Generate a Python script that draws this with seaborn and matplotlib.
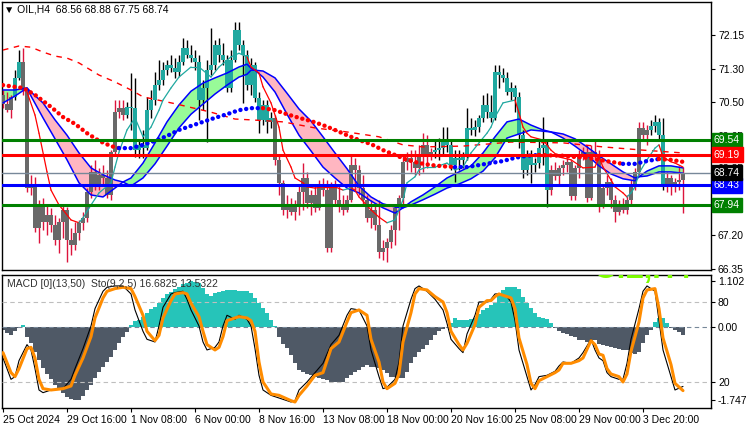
import numpy as np
import pandas as pd
import matplotlib
matplotlib.use("Agg")
import matplotlib.pyplot as plt
import seaborn as sns

# OIL H4 bars (one entry per 4h bar)
opens = [70.67, 70.44, 70.29, 70.62, 71.09, 71.48, 70.79, 68.36, 68.44, 67.37,
         67.94, 67.52, 67.70, 67.45, 67.08, 67.52, 67.82, 67.08, 66.95, 67.25,
         67.50, 67.62, 68.26, 68.76, 68.44, 68.69, 68.61, 68.19, 69.25, 70.24,
         70.34, 70.17, 70.37, 70.34, 69.30, 69.43, 69.35, 70.29, 70.54, 70.91,
         71.04, 71.28, 71.41, 71.33, 71.23, 71.48, 71.83, 71.66, 71.58, 71.48,
         70.54, 70.84, 71.28, 71.41, 71.90, 71.66, 71.53, 70.84, 71.53, 72.27,
         71.90, 71.66, 70.91, 71.41, 70.59, 70.05, 70.42, 70.00, 70.10, 69.06,
         68.49, 67.82, 67.97, 67.77, 67.89, 68.26, 68.61, 67.99, 68.19, 67.87,
         68.44, 68.31, 66.88, 68.44, 68.07, 67.94, 67.82, 68.07, 68.93, 68.81,
         68.36, 68.07, 67.62, 67.82, 67.45, 66.78, 66.88, 67.03, 67.32, 67.87,
         68.12, 69.01, 69.11, 69.01, 68.86, 69.18, 69.43, 69.18, 69.25, 69.30,
         69.35, 69.50, 69.43, 68.93, 69.11, 69.06, 69.13, 69.85, 69.80, 69.87,
         70.10, 70.42, 70.24, 70.10, 71.23, 71.16, 71.09, 70.74, 70.84, 70.62,
         69.67, 68.81, 69.18, 68.93, 68.98, 69.35, 69.43, 68.31, 68.81, 68.66,
         68.86, 68.93, 69.01, 68.17, 68.86, 69.18, 69.25, 68.12, 69.25, 69.18,
         67.94, 68.36, 68.51, 68.07, 67.77, 67.94, 67.82, 68.07, 68.44, 68.76,
         69.85, 69.67, 69.80, 69.90, 70.00, 69.67, 68.44, 68.61, 68.39, 68.51,
         68.56]
highs = [70.79, 70.74, 70.67, 71.28, 71.78, 71.83, 70.84, 68.69, 68.64, 68.07,
         68.12, 67.94, 67.87, 67.70, 67.62, 67.94, 67.89, 67.37, 67.52, 67.57,
         67.77, 68.36, 68.93, 69.06, 68.86, 68.93, 68.81, 69.30, 70.54, 70.54,
         70.54, 70.49, 71.21, 71.09, 69.55, 69.80, 70.62, 70.79, 71.23, 71.53,
         71.48, 71.53, 71.66, 71.58, 71.66, 72.08, 72.03, 71.90, 71.78, 71.66,
         71.04, 71.53, 72.32, 72.03, 72.08, 71.95, 71.66, 71.78, 72.47, 72.47,
         72.03, 71.78, 71.58, 71.48, 70.74, 70.54, 70.54, 70.24, 70.17, 69.18,
         68.56, 68.19, 68.12, 68.07, 68.44, 68.98, 68.76, 68.31, 68.44, 68.56,
         68.61, 68.56, 68.51, 68.56, 68.44, 68.19, 68.19, 69.18, 69.11, 68.93,
         68.69, 68.19, 68.07, 67.99, 68.07, 67.08, 67.13, 67.45, 67.94, 68.19,
         69.18, 69.25, 69.30, 69.30, 69.43, 69.72, 69.67, 69.35, 69.55, 69.60,
         69.87, 69.87, 69.55, 69.30, 69.30, 69.25, 70.34, 70.10, 70.05, 70.17,
         70.67, 70.71, 70.67, 71.41, 71.41, 71.33, 71.23, 70.99, 70.91, 70.74,
         69.80, 69.30, 69.30, 69.11, 69.55, 70.12, 69.55, 68.93, 69.01, 68.93,
         69.06, 69.11, 69.06, 68.93, 69.30, 69.38, 69.43, 69.43, 69.55, 69.30,
         68.44, 68.69, 68.61, 68.19, 68.07, 68.12, 68.19, 68.56, 68.86, 70.00,
         70.00, 69.92, 70.05, 70.17, 70.10, 70.10, 68.76, 68.69, 68.61, 68.91,
         68.88]
lows = [70.34, 70.24, 70.10, 70.54, 71.04, 70.67, 68.26, 68.19, 67.27, 67.00,
        67.32, 67.20, 67.27, 66.95, 66.75, 67.13, 66.53, 66.71, 66.83, 67.08,
        67.32, 67.52, 68.12, 68.31, 68.31, 68.44, 68.12, 68.07, 69.18, 70.10,
        70.05, 70.10, 69.80, 69.13, 69.11, 69.11, 69.30, 70.10, 70.42, 70.79,
        70.91, 71.16, 71.23, 71.09, 71.14, 71.41, 71.58, 71.48, 71.28, 70.05,
        70.29, 69.50, 71.16, 71.28, 71.48, 71.41, 70.74, 70.74, 71.48, 71.78,
        70.47, 70.79, 70.67, 70.49, 69.72, 69.92, 69.72, 69.85, 68.93, 68.19,
        67.70, 67.62, 67.70, 67.57, 67.70, 67.82, 67.87, 67.70, 67.77, 67.82,
        68.17, 66.78, 66.78, 67.94, 67.77, 67.70, 67.77, 68.02, 68.31, 68.19,
        67.94, 67.52, 67.37, 67.32, 66.63, 66.58, 66.53, 66.88, 66.95, 67.32,
        67.94, 68.81, 68.76, 68.69, 68.69, 68.76, 68.86, 69.06, 69.11, 69.06,
        69.18, 69.25, 68.81, 68.51, 68.81, 68.86, 69.06, 69.67, 69.65, 69.75,
        70.00, 70.10, 70.00, 70.05, 70.84, 70.99, 70.67, 70.54, 70.24, 69.35,
        68.61, 68.69, 68.49, 68.76, 68.86, 68.93, 67.89, 68.19, 68.56, 68.44,
        68.69, 68.76, 68.07, 68.07, 68.61, 69.06, 68.02, 68.07, 69.11, 67.77,
        67.87, 68.19, 67.87, 67.52, 67.70, 67.74, 67.72, 67.94, 68.31, 68.69,
        69.55, 69.43, 69.67, 69.75, 69.55, 68.31, 68.26, 68.19, 68.26, 68.31,
        67.75]
closes = [70.44, 70.29, 70.62, 71.09, 71.48, 70.79, 68.36, 68.44, 67.37, 67.94,
          67.52, 67.70, 67.45, 67.08, 67.52, 67.82, 67.08, 66.95, 67.25, 67.50,
          67.62, 68.26, 68.76, 68.44, 68.69, 68.61, 68.19, 69.25, 70.24, 70.34,
          70.17, 70.37, 70.34, 69.30, 69.43, 69.35, 70.29, 70.54, 70.91, 71.04,
          71.28, 71.41, 71.33, 71.23, 71.48, 71.83, 71.66, 71.58, 71.48, 70.54,
          70.84, 71.28, 71.41, 71.90, 71.66, 71.53, 70.84, 71.53, 72.27, 71.90,
          71.66, 70.91, 71.41, 70.59, 70.05, 70.42, 70.00, 70.10, 69.06, 68.49,
          67.82, 67.97, 67.77, 67.89, 68.26, 68.61, 67.99, 68.19, 67.87, 68.44,
          68.31, 66.88, 68.44, 68.07, 67.94, 67.82, 68.07, 68.93, 68.81, 68.36,
          68.07, 67.62, 67.82, 67.45, 66.78, 66.88, 67.03, 67.32, 67.87, 68.12,
          69.01, 69.11, 69.01, 68.86, 69.18, 69.43, 69.18, 69.25, 69.30, 69.35,
          69.50, 69.43, 68.93, 69.11, 69.06, 69.13, 69.85, 69.80, 69.87, 70.10,
          70.42, 70.24, 70.10, 71.23, 71.16, 71.09, 70.74, 70.84, 70.62, 69.67,
          68.81, 69.18, 68.93, 68.98, 69.35, 69.43, 68.31, 68.81, 68.66, 68.86,
          68.93, 69.01, 68.17, 68.86, 69.18, 69.25, 68.12, 69.25, 69.18, 67.94,
          68.36, 68.51, 68.07, 67.77, 67.94, 67.82, 68.07, 68.44, 68.76, 69.85,
          69.67, 69.80, 69.90, 70.00, 69.67, 68.44, 68.61, 68.39, 68.51, 68.56,
          68.74]

# candle colouring by trend: (first bar, last bar, up?)
candle_trend = [(0, 2, 0), (3, 4, 1), (5, 30, 0), (31, 67, 1), (68, 107, 0),
                (108, 136, 1), (137, 161, 0), (162, 165, 1), (166, 170, 0)]

# two-line ribbon (fast / slow)
rib_bars = [0, 3, 6, 7, 10, 13, 16, 19, 22, 25, 28, 30, 32, 35, 38, 41, 44, 47, 50, 53,
            56, 59, 61, 62, 63, 65, 68, 71, 74, 77, 80, 83, 86, 89, 92, 95, 98, 100, 102, 105,
            108, 111, 114, 117, 120, 123, 126, 129, 132, 135, 137, 140, 143, 146, 149, 152,
            155, 158, 159, 161, 164, 167, 170]
rib_fast = [70.79, 70.79, 70.84, 70.64, 70.10, 69.58, 69.06, 68.49, 68.19, 68.14,
            68.36, 68.51, 68.61, 68.98, 69.48, 70.00, 70.42, 70.76, 70.96, 71.09,
            71.21, 71.36, 71.43, 71.33, 71.28, 71.11, 70.74, 70.19, 69.67, 69.28,
            68.88, 68.61, 68.36, 68.24, 68.04, 67.87, 67.74, 67.87, 68.02, 68.19,
            68.39, 68.61, 68.76, 68.91, 69.23, 69.63, 70.00, 70.07, 69.92, 69.80,
            69.75, 69.60, 69.40, 69.18, 68.91, 68.71, 68.59, 68.54, 68.64, 68.78,
            68.91, 68.91, 68.86]
rib_slow = [70.47, 70.64, 70.84, 70.74, 70.47, 70.05, 69.67, 69.23, 68.86, 68.69,
            68.56, 68.51, 68.41, 68.61, 68.96, 69.40, 69.85, 70.19, 70.44, 70.69,
            70.91, 71.11, 71.18, 71.28, 71.28, 71.26, 71.09, 70.71, 70.32, 70.02,
            69.63, 69.23, 68.84, 68.41, 68.14, 67.97, 67.89, 67.87, 67.94, 68.07,
            68.21, 68.36, 68.46, 68.59, 68.78, 69.11, 69.60, 69.70, 69.80, 69.77,
            69.75, 69.70, 69.58, 69.38, 69.16, 68.96, 68.76, 68.61, 68.64, 68.66,
            68.76, 68.76, 68.73]

# slow dashed average
long_bars = [0, 4, 7, 10, 13, 16, 19, 24, 28, 32, 35, 43, 52, 58, 62, 70, 78, 86, 94,
             100, 105, 115, 127, 140, 150, 160, 170]
long_vals = [71.78, 71.88, 71.85, 71.73, 71.63, 71.58, 71.46, 71.16, 70.99, 70.79,
             70.62, 70.45, 70.24, 70.07, 70.05, 70.00, 69.85, 69.75, 69.63, 69.43,
             69.38, 69.40, 69.50, 69.48, 69.38, 69.30, 69.23]

# dotted average (blue rising / red falling)
dot_bars = [0, 5, 8, 12, 15, 18, 21, 24, 27, 29, 32, 35, 38, 41, 44, 47, 50, 53, 56, 59,
            62, 65, 68, 71, 74, 77, 80, 83, 86, 89, 92, 95, 98, 101, 104, 107, 110, 113,
            116, 119, 122, 125, 128, 131, 134, 137, 140, 143, 146, 149, 152, 155, 158,
            161, 164, 167, 170]
dot_vals = [70.91, 70.84, 70.67, 70.37, 70.12, 69.95, 69.72, 69.53, 69.40, 69.35,
            69.35, 69.43, 69.53, 69.65, 69.80, 69.90, 70.00, 70.10, 70.19, 70.29,
            70.34, 70.34, 70.29, 70.19, 70.10, 70.02, 69.92, 69.80, 69.67, 69.55,
            69.45, 69.30, 69.18, 69.06, 68.98, 68.93, 68.90, 68.88, 68.88, 68.93,
            68.98, 69.03, 69.11, 69.16, 69.18, 69.17, 69.16, 69.13, 69.11, 69.06,
            69.01, 68.96, 68.96, 69.03, 69.08, 69.06, 69.01]

# thin trailing line, teal while in these bar ranges, red otherwise
trail_bars = [6, 8, 9, 11, 12, 14, 15, 17, 19, 20, 22, 24, 27, 28, 29, 31, 33, 35, 37, 39,
              40, 42, 44, 47, 49, 52, 54, 57, 59, 61, 62, 64, 65, 67, 69, 70, 72, 73, 75, 76,
              78, 80, 83, 85, 87, 88, 89, 92, 94, 96, 98, 100, 101, 103, 104, 106, 108, 111,
              113, 115, 117, 119, 121, 122, 123, 125, 128, 129, 130, 131, 132, 135, 137, 139,
              142, 145, 148, 149, 150, 152, 153, 155, 156, 157, 158, 159, 161, 163, 164, 165,
              167, 168, 170]
trail_vals = [70.74, 70.17, 69.72, 68.76, 68.31, 67.94, 67.82, 67.57, 67.50, 67.62,
              67.94, 68.24, 68.49, 68.88, 69.25, 69.80, 70.10, 69.63, 69.87, 70.29,
              70.54, 70.84, 71.11, 71.36, 71.36, 71.11, 71.36, 71.61, 71.70, 71.61,
              71.36, 71.21, 70.87, 70.47, 69.87, 69.30, 68.88, 68.61, 68.49, 68.39,
              68.36, 68.39, 68.39, 68.31, 68.36, 68.31, 68.14, 67.82, 67.64, 67.50,
              67.57, 68.07, 68.49, 68.64, 68.81, 68.88, 68.88, 68.98, 68.81, 68.88,
              69.23, 69.48, 69.72, 69.87, 70.12, 70.47, 70.54, 70.22, 69.87, 69.72,
              69.63, 69.55, 69.30, 69.13, 69.06, 68.86, 68.88, 69.13, 68.88, 68.56,
              68.39, 68.24, 68.14, 68.24, 68.39, 68.73, 69.06, 69.35, 69.43, 69.13,
              69.01, 68.98, 68.88]
trail_teal = [(20, 61), (87, 87), (98, 128), (157, 164)]

# horizontal levels
level_vals = [69.54, 69.19, 68.43, 67.94]
level_cols = ["#008000", "#FF0000", "#0000FF", "#008000"]
last_price = 68.74
price_ticks = [72.15, 71.30, 70.50, 69.65, 68.85, 68.00, 67.20, 66.35]
price_tick_labels = ["72.15", "71.30", "70.50", "69.65", "68.85", "", "67.20", "66.35"]

# MACD(13,50) histogram, one value per bar
macd_hist = [-0.07, -0.15, -0.20, -0.10, -0.02, 0.05, -0.23, -0.38, -0.60, -0.79,
             -0.98, -1.12, -1.25, -1.39, -1.50, -1.58, -1.68, -1.73, -1.747, -1.74,
             -1.65, -1.52, -1.40, -1.22, -1.08, -0.95, -0.85, -0.72, -0.55, -0.38,
             -0.23, -0.11, 0.05, 0.15, 0.18, 0.25, 0.33, 0.42, 0.48, 0.57,
             0.69, 0.78, 0.83, 0.91, 0.95, 1.02, 1.05, 1.102, 1.09, 1.05,
             0.93, 0.80, 0.75, 0.82, 0.85, 0.86, 0.89, 0.89, 0.88, 0.87,
             0.87, 0.86, 0.82, 0.69, 0.57, 0.45, 0.33, 0.17, 0.03, -0.23,
             -0.40, -0.50, -0.67, -0.87, -1.03, -1.09, -1.12, -1.15, -1.19, -1.23,
             -1.25, -1.28, -1.31, -1.33, -1.33, -1.31, -1.23, -1.15, -1.08, -1.02,
             -0.95, -0.91, -0.95, -0.97, -0.99, -1.03, -1.11, -1.19, -1.21, -1.22,
             -1.23, -1.07, -0.87, -0.71, -0.60, -0.52, -0.43, -0.31, -0.19, -0.10,
             -0.05, -0.01, 0.09, 0.21, 0.17, 0.17, 0.17, 0.20, 0.21, 0.30,
             0.41, 0.45, 0.52, 0.61, 0.77, 0.89, 0.95, 0.96, 0.95, 0.91,
             0.73, 0.57, 0.45, 0.33, 0.25, 0.21, 0.20, 0.09, -0.03, -0.10,
             -0.14, -0.16, -0.22, -0.24, -0.30, -0.32, -0.35, -0.35, -0.31, -0.41,
             -0.44, -0.46, -0.48, -0.51, -0.52, -0.55, -0.56, -0.62, -0.64, -0.59,
             -0.39, -0.19, -0.07, 0.13, 0.21, 0.21, 0.09, -0.03, -0.07, -0.13,
             -0.19]

# Stochastic(9,2,5)
sto_bars = [0, 2, 3, 4, 6, 7, 8, 9, 10, 12, 15, 17, 18, 20, 22, 23, 25, 26, 28, 30,
            32, 33, 35, 36, 38, 39, 40, 42, 43, 45, 46, 47, 49, 50, 51, 53, 54, 55, 56, 58,
            59, 61, 62, 63, 64, 65, 67, 69, 72, 73, 74, 76, 78, 80, 82, 84, 86, 87, 89, 91,
            92, 94, 95, 96, 98, 99, 100, 102, 103, 104, 106, 108, 110, 111, 112, 114, 115,
            116, 118, 119, 121, 122, 123, 124, 126, 127, 128, 129, 131, 132, 133, 134, 136,
            138, 139, 140, 142, 144, 145, 147, 148, 149, 150, 151, 152, 154, 155, 156, 157,
            159, 160, 161, 163, 164, 165, 167, 168, 170]
sto_main = [38, 22, 24, 36, 48, 44, 30, 14, 12, 14, 15, 22, 30, 45, 62, 75, 88, 91, 92, 92,
            86, 74, 58, 52, 50, 62, 76, 86, 87, 88, 82, 74, 62, 50, 44, 46, 50, 62, 70, 67,
            70, 67, 62, 45, 25, 14, 10, 8, 5, 6, 14, 20, 27, 34, 48, 55, 70, 75, 74, 62,
            44, 24, 15, 16, 22, 35, 62, 82, 90, 92, 88, 82, 74, 64, 52, 45, 42, 56, 70, 80,
            80, 82, 86, 86, 84, 80, 66, 44, 24, 14, 18, 24, 25, 28, 32, 35, 34, 38, 42, 52,
            44, 38, 36, 27, 24, 22, 22, 34, 52, 75, 88, 92, 88, 66, 44, 24, 14, 16.68]
sto_signal = [42, 27, 24, 30, 45, 46, 38, 22, 15, 14, 15, 17, 25, 38, 54, 68, 83, 88, 90, 91,
              90, 84, 70, 58, 51, 55, 68, 81, 86, 87, 86, 79, 69, 58, 48, 44, 46, 54, 66, 68,
              69, 68, 66, 58, 35, 20, 11, 10, 6, 5, 10, 17, 25, 27, 45, 50, 65, 72, 74, 70,
              52, 35, 20, 15, 19, 26, 50, 72, 86, 90, 89, 84, 80, 72, 58, 48, 44, 49, 63, 76,
              81, 81, 84, 86, 84, 83, 75, 53, 33, 19, 15, 21, 24, 27, 29, 34, 34, 36, 38, 51,
              48, 41, 40, 30, 26, 24, 20, 26, 43, 65, 83, 89, 90, 75, 53, 33, 19, 13.53]

date_bars = [0, 16, 32, 48, 64, 80, 96, 112, 128, 144, 160]
date_labels = ["25 Oct 2024", "29 Oct 16:00", "1 Nov 08:00", "6 Nov 00:00", "8 Nov 16:00",
               "13 Nov 08:00", "18 Nov 00:00", "20 Nov 16:00", "25 Nov 08:00",
               "29 Nov 00:00", "3 Dec 20:00"]

sns.set_theme(style="white")
plt.rcParams["font.family"] = ["Liberation Sans", "DejaVu Sans"]
plt.rcParams["font.size"] = 7

W, H = 750, 430
fig = plt.figure(figsize=(7.5, 4.3), dpi=100)
ax = fig.add_axes([2 / W, 1 - 270 / H, 709 / W, 268 / H])
axm = fig.add_axes([2 / W, 1 - 408 / H, 709 / W, 133 / H])
axs = axm.twinx()

df = pd.DataFrame({"o": opens, "h": highs, "l": lows, "c": closes})
n = len(df)
bars = np.arange(n)
up = np.zeros(n, dtype=bool)
for a, b, u in candle_trend:
    up[a:b + 1] = bool(u)

# ribbon fill
rb, rf, rs = np.array(rib_bars), np.array(rib_fast), np.array(rib_slow)
ax.fill_between(rb, rf, rs, where=rf >= rs, interpolate=True, color="#98FB98", lw=0, zorder=1)
ax.fill_between(rb, rf, rs, where=rf <= rs, interpolate=True, color="#FFB6C1", lw=0, zorder=1)

# candles
body_lo = np.minimum(df.o, df.c)
body_hi = np.maximum(df.o, df.c)
ax.vlines(bars, df.l, df.h, colors=np.where(up, "black", "#DC143C"), lw=1, zorder=3)
ax.bar(bars, np.maximum(body_hi - body_lo, 0.02), bottom=body_lo, width=0.78,
       color=list(np.where(up, "#20A8A0", "#696969")), lw=0, zorder=4)

ax.plot(rb, rf, color="#0000FF", lw=1.1, zorder=5)
ax.plot(rb, rs, color="#0000FF", lw=1.1, zorder=5)

# slow dashed average
ax.plot(long_bars, long_vals, color="red", lw=1, ls=(0, (4, 4)), zorder=5)

# thin trailing line
teal_bar = np.zeros(n, dtype=bool)
for a, b in trail_teal:
    teal_bar[a:b + 1] = True
for i in range(len(trail_bars) - 1):
    col = "#20A8A0" if teal_bar[trail_bars[i + 1]] else "red"
    ax.plot(trail_bars[i:i + 2], trail_vals[i:i + 2], color=col, lw=0.9, zorder=5)

# dotted average, grouped into runs of one colour
seg_cols = ["#0000FF" if dot_vals[i + 1] >= dot_vals[i] else "red" for i in range(len(dot_bars) - 1)]
start = 0
for i in range(1, len(seg_cols) + 1):
    if i == len(seg_cols) or seg_cols[i] != seg_cols[start]:
        ax.plot(dot_bars[start:i + 1], dot_vals[start:i + 1], color=seg_cols[start], lw=3.2,
                ls=(0, (0.01, 1.3)), dash_capstyle="round", zorder=6)
        start = i

# levels
ax.axhline(last_price, color="#778899", lw=1, zorder=6)
for v, col in zip(level_vals, level_cols):
    ax.axhline(v, color=col, lw=2.2, zorder=7)

ytr = ax.get_yaxis_transform()
for v, col in zip(level_vals + [last_price], level_cols + ["black"]):
    ax.text(1 + 3 / 709, v, f"{v:.2f}", transform=ytr, color="white", fontsize=7.5,
            va="center", ha="left", clip_on=False, zorder=10,
            bbox=dict(boxstyle="square,pad=0.22", fc=col, ec=col))

ax.set_xlim(-0.25, 177)
ax.set_ylim(66.33, 72.97)
ax.set_xticks([])
ax.set_yticks(price_ticks)
ax.set_yticklabels(price_tick_labels)
ax.yaxis.tick_right()
ax.tick_params(axis="y", right=True, left=False, length=3, width=0.8, pad=2,
               labelsize=7.5, colors="black")

# MACD + Stochastic panel
hist = np.array(macd_hist)
axm.bar(bars, hist, width=0.78, color=list(np.where(hist >= 0, "#26C4B9", "#4F5966")),
        lw=0, zorder=2)
axm.axhline(0, color="#778899", ls=(0, (4, 3)), lw=0.8, zorder=3)
axs.axhline(80, color="#BEBEBE", ls=(0, (4, 3)), lw=0.8)
axs.axhline(20, color="#BEBEBE", ls=(0, (4, 3)), lw=0.8)

sto = pd.DataFrame({"bar": sto_bars, "main": sto_main, "signal": sto_signal})
sns.lineplot(data=sto, x="bar", y="main", ax=axs, color="black", lw=0.8)
sns.lineplot(data=sto, x="bar", y="signal", ax=axs, color="#FF8C00", lw=2.2)
axs.text(160, 97.8, "OIL,H4", color="#7CFC00", fontsize=22, fontweight="bold",
         ha="center", va="baseline", zorder=0, clip_on=True)

axm.set_xlim(-0.25, 177)
axm.set_ylim(-1.942, 1.247)
axs.set_ylim(0.5, 100.2)
axs.set_xlabel("")
axs.set_ylabel("")
axm.yaxis.tick_right()
axm.set_yticks([1.102, 0, -1.747])
axm.set_yticklabels(["1.102", "0.00", "-1.747"])
axs.set_yticks([80, 20])
axs.set_yticklabels(["80", "20"])
for a in (axm, axs):
    a.tick_params(axis="y", right=True, left=False, labelright=True, labelleft=False,
                  length=3, width=0.8, pad=2, labelsize=7.5, colors="black")
axm.set_xticks(date_bars)
axm.set_xticklabels(date_labels, ha="left")
axm.tick_params(axis="x", bottom=True, length=3, width=0.8, pad=2, labelsize=7.5,
                colors="black")

for a in (ax, axm):
    for sp in a.spines.values():
        sp.set_color("black")
        sp.set_linewidth(1)
for sp in axs.spines.values():
    sp.set_visible(False)

fig.text(4 / W, 1 - 9 / H, "\u25bc OIL,H4  68.56 68.88 67.75 68.74", fontsize=7.5,
         va="center", ha="left", color="black")
fig.text(7 / W, 1 - 284 / H, "MACD [0](13,50)  Sto(9,2,5) 16.6825 13.5322", fontsize=7.5,
         va="center", ha="left", color="#303030", zorder=20)

fig.savefig("out.png", dpi=100)
